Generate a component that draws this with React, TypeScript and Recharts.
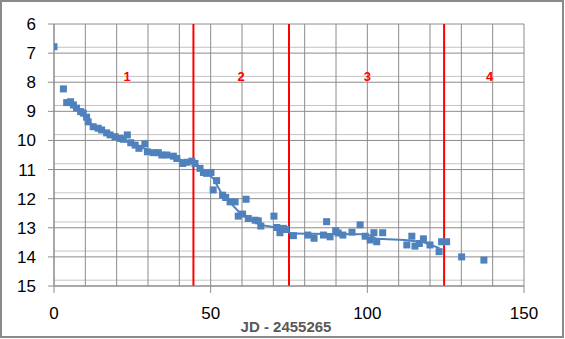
import React from 'react';
import {
  ScatterChart,
  Scatter,
  XAxis,
  YAxis,
  ZAxis,
  CartesianGrid,
  ReferenceLine,
  ReferenceDot,
  Label,
} from 'recharts';

// observed magnitudes, days since JD 2455265
const obsDays = [
  0, 3.0, 4.05, 5.3, 6.2, 7.2, 8.5, 9.35, 10.4, 10.9, 12.5, 14.1, 15.2, 16.8, 17.9,
  19.5, 21.1, 22.1, 23.4, 24.5, 25.9, 27.1, 29.0, 29.8, 31.7, 33.3, 34.4, 36.0, 38.1,
  39.2, 41.1, 42.4, 44.0, 45.0, 46.6, 47.7, 48.7, 50.1, 51.9, 50.8, 53.8, 54.8, 56.2,
  57.8, 61.3, 58.8, 60.2, 62.0, 64.2, 65.2, 66.0, 70.2, 71.1, 72.1, 73.2, 74.0, 76.4,
  81.0, 83.0, 86.0, 87.0, 88.1, 89.9, 90.7, 92.2, 95.1, 97.7, 99.3, 100.9, 102.1, 103.0,
  104.9, 112.6, 114.2, 115.2, 116.6, 117.9, 120.0, 122.9, 123.7, 125.3, 130.1, 137.2,
];
const obsMags = [
  6.78, 8.23, 8.7, 8.67, 8.78, 8.89, 9.01, 9.06, 9.2, 9.36, 9.53, 9.58, 9.64, 9.74, 9.81,
  9.87, 9.93, 9.96, 9.81, 10.08, 10.16, 10.27, 10.12, 10.39, 10.42, 10.42, 10.5, 10.5, 10.54,
  10.62, 10.79, 10.75, 10.71, 10.79, 10.96, 11.1, 11.13, 11.1, 11.38, 11.7, 11.88, 11.96, 12.11,
  12.11, 12.02, 12.6, 12.53, 12.68, 12.74, 12.76, 12.94, 12.6, 12.99, 13.17, 13.02, 13.06, 13.27,
  13.25, 13.36, 13.25, 12.79, 13.31, 13.1, 13.18, 13.25, 13.15, 12.9, 13.29, 13.42, 13.17, 13.48,
  13.17, 13.59, 13.29, 13.63, 13.54, 13.38, 13.59, 13.82, 13.48, 13.48, 14.0, 14.11,
];

// trend line
const trendDays = [4, 8, 12, 16, 20, 25, 30, 35, 40, 44.5, 47, 50.8, 53.5, 59.4, 65.8, 71, 74.3, 76, 88, 100, 103, 112, 118, 123];
const trendMags = [8.7, 9.0, 9.45, 9.7, 9.9, 10.12, 10.33, 10.48, 10.65, 10.76, 10.95, 11.3, 11.82, 12.5, 12.9, 12.99, 13.13, 13.2, 13.21, 13.22, 13.38, 13.42, 13.5, 13.7];

const phaseBounds = [44.5, 75, 124.5];
const phaseNames = ['1', '2', '3', '4'];
const phaseLabelDays = [23.3, 59.7, 100, 139];
const phaseLabelMag = 7.8;

const xTicks = [0, 50, 100, 150];
const yTicks = [6, 7, 8, 9, 10, 11, 12, 13, 14, 15];

const observations = obsDays.map((d, i) => ({ day: d, mag: obsMags[i] }));
const trend = trendDays.map((d, i) => ({ day: d, mag: trendMags[i] }));

const minorY: number[] = [];
yTicks.slice(0, -1).forEach((t) => {
  for (let k = 1; k < 5; k++) minorY.push(+(t + k * 0.2).toFixed(1));
});
const verticalX: number[] = [];
for (let v = 0; v <= 150; v += 10) verticalX.push(v);

const BLUE = '#4F81BD';
const FONT = '"Liberation Sans", Arial, sans-serif';

const squareMarker = (props: any) => (
  <rect x={props.cx - 3.5} y={props.cy - 3.5} width={7} height={7} fill={BLUE} />
);

export default function App() {
  return (
    <div style={{ position: 'absolute', left: 0, top: 0, width: 565, height: 339, background: '#fff' }}>
      <div
        style={{
          position: 'absolute',
          left: 0,
          top: 0,
          width: 564,
          height: 338,
          border: '2px solid #8a8a8a',
          boxSizing: 'border-box',
        }}
      />
      <ScatterChart
        width={565}
        height={339}
        margin={{ top: 24, right: 41, bottom: 0, left: 0 }}
        style={{ fontFamily: FONT }}
      >
        <CartesianGrid horizontalValues={minorY} vertical={false} stroke="#c4c4c4" strokeWidth={1} />
        <CartesianGrid horizontalValues={yTicks} verticalValues={verticalX} stroke="#8c8c8c" strokeWidth={1} />
        <XAxis
          type="number"
          dataKey="day"
          domain={[0, 150]}
          ticks={xTicks}
          allowDataOverflow
          height={53}
          tickSize={7}
          tickMargin={14}
          axisLine={{ stroke: '#8c8c8c' }}
          tickLine={{ stroke: '#8c8c8c' }}
          tick={{ fontSize: 17, fill: '#000', fontFamily: FONT }}
        >
          <Label
            value="JD - 2455265"
            position="insideBottom"
            offset={7}
            dx={-3}
            style={{ fontSize: 15, fontWeight: 'bold', fill: '#595959', fontFamily: FONT }}
          />
        </XAxis>
        <YAxis
          type="number"
          dataKey="mag"
          reversed
          domain={[6, 15]}
          ticks={yTicks}
          allowDataOverflow
          width={54}
          tickSize={6}
          tickMargin={12}
          axisLine={{ stroke: '#8c8c8c' }}
          tickLine={{ stroke: '#8c8c8c' }}
          tick={{ fontSize: 17, fill: '#000', fontFamily: FONT }}
        />
        <ZAxis range={[49, 49]} />
        <Scatter
          data={trend}
          line={{ stroke: BLUE, strokeWidth: 2 }}
          shape={() => <g />}
          isAnimationActive={false}
        />
        <Scatter data={observations} shape={squareMarker} isAnimationActive={false} />
        {phaseBounds.map((b) => (
          <ReferenceLine key={b} x={b} stroke="#FF0000" strokeWidth={2} />
        ))}
        {phaseNames.map((name, i) => (
          <ReferenceDot
            key={name}
            x={phaseLabelDays[i]}
            y={phaseLabelMag}
            r={0}
            shape={(p: any) => (
              <text
                x={p.cx}
                y={p.cy}
                textAnchor="middle"
                dominantBaseline="central"
                fill="#FF0000"
                fontSize={13}
                fontWeight="bold"
                fontFamily={FONT}
              >
                {name}
              </text>
            )}
          />
        ))}
      </ScatterChart>
    </div>
  );
}
